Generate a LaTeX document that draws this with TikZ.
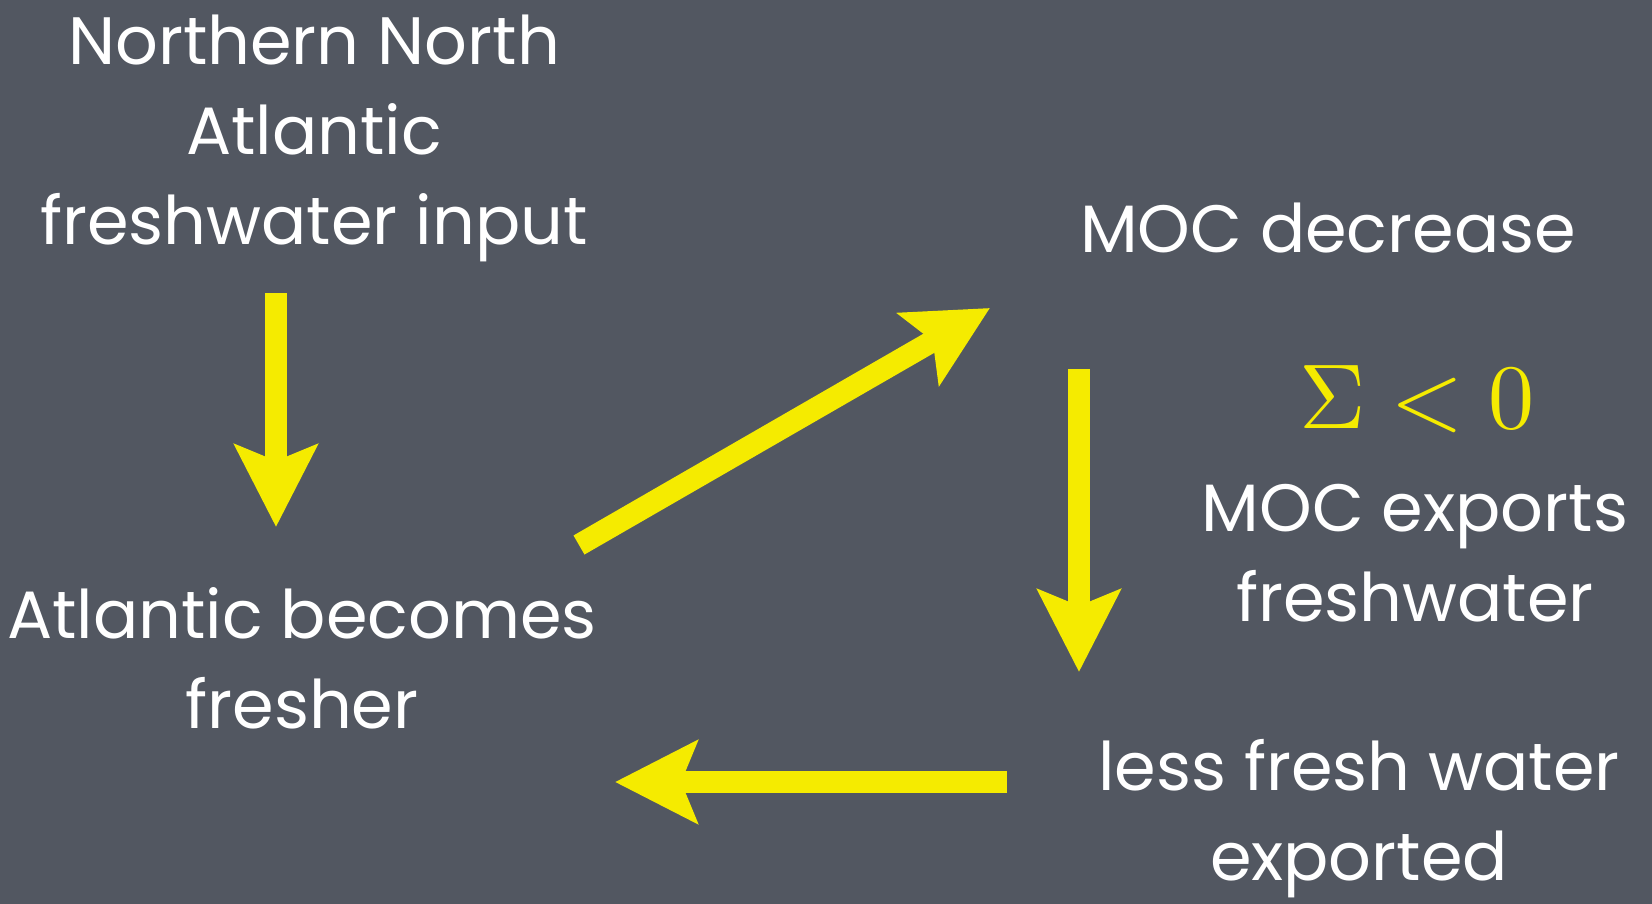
\documentclass[tikz,border=0pt]{standalone}
\usepackage{unicode-math}
\setmainfont{Poppins}
\setmathfont{Latin Modern Math}
\usetikzlibrary{arrows.meta}
\definecolor{slate}{RGB}{82,87,97}
\definecolor{chalkyellow}{RGB}{245,235,0}
\tikzset{
  lbl/.style={text=white, align=center, font=\fontsize{67}{90}\selectfont, inner sep=0pt},
  bigarrow/.style={draw=chalkyellow, line width=22pt, -{Stealth[length=82pt, width=82pt, inset=16pt]}},
}
\begin{document}
\begin{tikzpicture}[x=1pt,y=-1pt]
\fill[slate] (0,0) rectangle (1652,904);
\useasboundingbox (0,0) rectangle (1652,904);
\node[lbl] (nna) at (314,138) {Northern North\\Atlantic\\freshwater input};
\node[lbl] (abf) at (302,658) {Atlantic becomes\\fresher};
\node[lbl] (moc) at (1328,228) {MOC decrease};
\node[text=chalkyellow, inner sep=0pt, font=\fontsize{92}{92}\selectfont] (sig) at (1417,400) {$\Sigma<0$};
\node[lbl] (exp) at (1415,553) {MOC exports\\freshwater};
\node[lbl] (less) at (1359,819) {less fresh water\\exported};
\coordinate (a1s) at (276,293);
\coordinate (a1e) at (276,527);
\coordinate (a2s) at (579,545);
\coordinate (a2e) at (990,308);
\coordinate (a3s) at (1079,369);
\coordinate (a3e) at (1079,672);
\coordinate (a4s) at (1007,782);
\coordinate (a4e) at (615,782);
\draw[bigarrow] (a1s) -- (a1e);
\draw[bigarrow] (a2s) -- (a2e);
\draw[bigarrow] (a3s) -- (a3e);
\draw[bigarrow] (a4s) -- (a4e);
\end{tikzpicture}
\end{document}
